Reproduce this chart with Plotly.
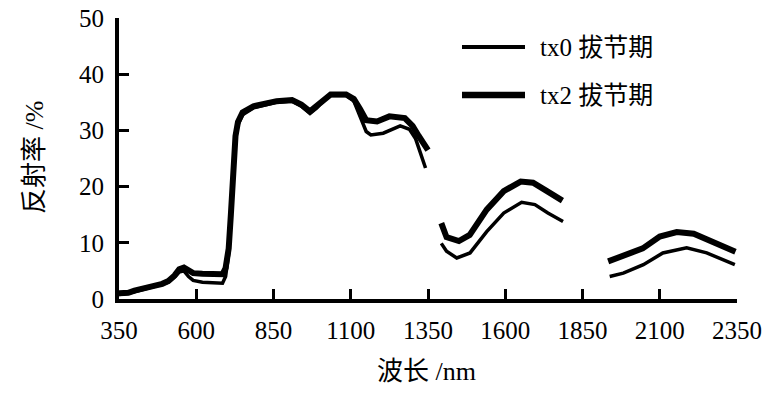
import plotly.graph_objects as go

# ---- data ----
wl_tx2 = [350, 380, 400, 430, 460, 490, 510, 530, 545, 560, 575, 590, 620, 660, 685, 695, 705, 712, 720, 727,
          735, 750, 785, 830, 860, 910, 940, 968, 990, 1010, 1035, 1085, 1110, 1130, 1150, 1185, 1225, 1275,
          1300, 1320, 1350, None,
          1393, 1410, 1450, 1485, 1540, 1595, 1650, 1690, 1735, 1785, None,
          1933, 1980, 2045, 2100, 2155, 2210, 2270, 2345]
refl_tx2 = [1.0, 1.1, 1.5, 1.8, 2.3, 2.7, 3.2, 4.2, 5.3, 5.6, 5.0, 4.6, 4.5, 4.4, 4.4, 5.5, 9, 15, 23, 29,
            31.5, 33.2, 34.3, 34.8, 35.2, 35.4, 34.6, 33.4, 34.3, 35.4, 36.4, 36.4, 35.6, 33.8, 31.8, 31.6, 32.5, 32.2,
            30.8, 29.0, 26.5, None,
            13.5, 11.0, 10.3, 11.4, 15.9, 19.2, 20.9, 20.7, 19.2, 17.5, None,
            6.7, 7.6, 9.0, 11.1, 11.9, 11.6, 10.2, 8.4]

wl_tx0 = [350, 380, 400, 430, 460, 490, 510, 530, 545, 560, 575, 590, 620, 660, 685, 695, 705, 712, 720, 727,
          735, 750, 785, 830, 860, 910, 940, 968, 990, 1010, 1035, 1085, 1110, 1130, 1150, 1165, 1205, 1260,
          1290, 1310, 1325, 1342, None,
          1393, 1410, 1443, 1486, 1540, 1595, 1653, 1696, 1738, 1787, None,
          1938, 1982, 2047, 2110, 2187, 2252, 2343]
refl_tx0 = [0.8, 1.0, 1.3, 1.7, 2.2, 2.6, 3.0, 3.9, 4.8, 5.0, 4.0, 3.3, 3.0, 2.8, 2.8, 4.0, 8, 14, 22, 28.5,
            31, 32.8, 34.0, 34.6, 35.0, 35.2, 34.3, 33.0, 34.0, 35.2, 36.2, 36.2, 35.2, 32.5, 29.8, 29.2, 29.5, 30.8,
            30.2, 28.5, 26.0, 23.3, None,
            9.9, 8.5, 7.3, 8.2, 12.0, 15.3, 17.2, 16.8, 15.3, 13.8, None,
            4.0, 4.6, 6.1, 8.2, 9.1, 8.2, 6.1]

x_ticks = [350, 600, 850, 1100, 1350, 1600, 1850, 2100, 2350]
y_ticks = [0, 10, 20, 30, 40, 50]
series_names = ["tx0 拔节期", "tx2 拔节期"]
x_title = "波长 /nm"
y_title = "反射率 /%"

SERIF = "Liberation Serif, Noto Sans CJK SC, serif"

W, H = 777, 394
L, R, T, B = 119, 737, 18, 299          # plot area in screen pixels
PW, PH = R - L, B - T


def px(x):
    return (x - L) / PW


def py(y):
    return (B - y) / PH


fig = go.Figure()
fig.add_trace(go.Scatter(x=wl_tx0, y=refl_tx0, mode="lines", name=series_names[0],
                         line=dict(color="black", width=3.5), connectgaps=False, showlegend=False))
fig.add_trace(go.Scatter(x=wl_tx2, y=refl_tx2, mode="lines", name=series_names[1],
                         line=dict(color="black", width=6), connectgaps=False, showlegend=False))

# manual legend (sample lines + labels)
legend_y = [47, 95]
legend_w = [4, 6.5]
for name, ly, lw in zip(series_names, legend_y, legend_w):
    fig.add_shape(type="line", xref="paper", yref="paper",
                  x0=px(462), x1=px(525), y0=py(ly), y1=py(ly),
                  line=dict(color="black", width=lw))
    fig.add_annotation(xref="paper", yref="paper", x=px(538), y=py(ly),
                       xanchor="left", yanchor="middle", showarrow=False, text=name,
                       font=dict(family=SERIF, size=25, color="black"))

# axis titles
fig.add_annotation(xref="paper", yref="paper", x=px(426), y=py(371),
                   xanchor="center", yanchor="middle", showarrow=False, text=x_title,
                   font=dict(family=SERIF, size=26, color="black"))
fig.add_annotation(xref="paper", yref="paper", x=px(34), y=py(158),
                   xanchor="center", yanchor="middle", showarrow=False, text=y_title, textangle=-90,
                   font=dict(family=SERIF, size=26, color="black"))

fig.update_layout(
    width=W, height=H,
    margin=dict(l=L, r=W - R, t=T, b=H - B, autoexpand=False),
    plot_bgcolor="white", paper_bgcolor="white",
    showlegend=False,
    xaxis=dict(range=[350, 2350], tickvals=x_ticks, ticktext=[str(v) for v in x_ticks],
               showline=True, linecolor="black", linewidth=4, showgrid=False, zeroline=False,
               ticks="inside", ticklen=10, tickwidth=2.5, tickcolor="black", automargin=False,
               ticklabeloverflow="allow",
               tickfont=dict(family=SERIF, size=25, color="black"), ticklabelstandoff=6),
    yaxis=dict(range=[0, 50], tickvals=y_ticks, ticktext=[str(v) for v in y_ticks],
               showline=True, linecolor="black", linewidth=4, showgrid=False, zeroline=False,
               ticks="inside", ticklen=10, tickwidth=2.5, tickcolor="black", automargin=False,
               ticklabeloverflow="allow",
               tickfont=dict(family=SERIF, size=25, color="black"), ticklabelstandoff=6),
)

# remove the browser's default 8px body margin so the figure sits at the window's corner
fig.write_html("out.html", config={"displayModeBar": False},
               post_script="document.body.style.margin='0';")
